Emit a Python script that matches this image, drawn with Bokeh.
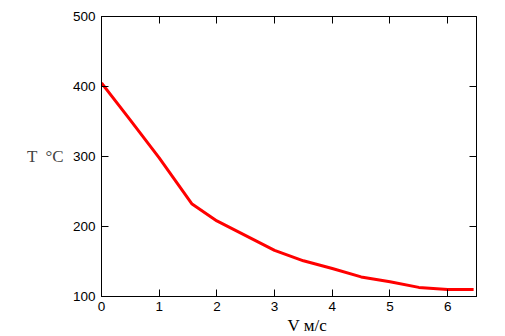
from bokeh.plotting import figure
from bokeh.models import LinearAxis, Range1d, FixedTicker, Title
from bokeh.embed import file_html
from bokeh.resources import INLINE

# Data
V = [0.0, 0.5, 1.0, 1.57, 2.0, 2.5, 3.0, 3.5, 4.0, 4.5, 5.0, 5.5, 6.0, 6.45]
T = [405, 352, 298, 232, 208, 187, 166, 151, 140, 128, 121, 113, 110, 110]
x_ticks = [0, 1, 2, 3, 4, 5, 6]
y_ticks = [100, 200, 300, 400, 500]
x_label = "V м/с"
y_label = "T \u00a0°C"

p = figure(width=500, height=336, output_backend="svg", toolbar_location=None,
           x_range=Range1d(0, 6.5), y_range=Range1d(100, 500),
           min_border_left=101, min_border_right=24, min_border_top=16, min_border_bottom=40,
           x_axis_location=None, y_axis_location=None)
p.grid.visible = False
p.outline_line_color = "black"
p.background_fill_color = "white"
p.border_fill_color = "white"

def style(ax, ticks, show_labels):
    ax.ticker = FixedTicker(ticks=ticks)
    ax.major_tick_in = 7
    ax.major_tick_out = 0
    ax.minor_tick_line_color = None
    ax.axis_line_color = "black"
    ax.major_tick_line_color = "black"
    ax.major_label_text_font = "Liberation Sans"
    ax.major_label_text_font_size = "13.5px"
    ax.major_label_text_color = "black"
    ax.major_label_standoff = 6 if show_labels else 0
    if not show_labels:
        ax.major_label_overrides = {t: "" for t in ticks}

xb = LinearAxis(); style(xb, x_ticks, True); xb.major_label_standoff = 5
yl = LinearAxis(); style(yl, y_ticks, True)
yl.axis_label = y_label
yl.axis_label_orientation = "horizontal"
yl.axis_label_text_font = "Liberation Serif"
yl.axis_label_text_font_size = "17px"
yl.axis_label_text_font_style = "normal"
yl.axis_label_standoff = 6
xt = LinearAxis(); style(xt, x_ticks, False)
yr = LinearAxis(); style(yr, y_ticks, False)
p.add_layout(xb, "below")
p.add_layout(yl, "left")
p.add_layout(xt, "above")
p.add_layout(yr, "right")

p.line(V, T, line_color="#ff0000", line_width=3)

xt_title = Title(text=x_label, align="left", offset=186, standoff=0,
                 text_font="Liberation Serif", text_font_size="17px",
                 text_font_style="normal", text_color="black")
p.add_layout(xt_title, "below")

open("out.html", "w").write(file_html(p, INLINE))
